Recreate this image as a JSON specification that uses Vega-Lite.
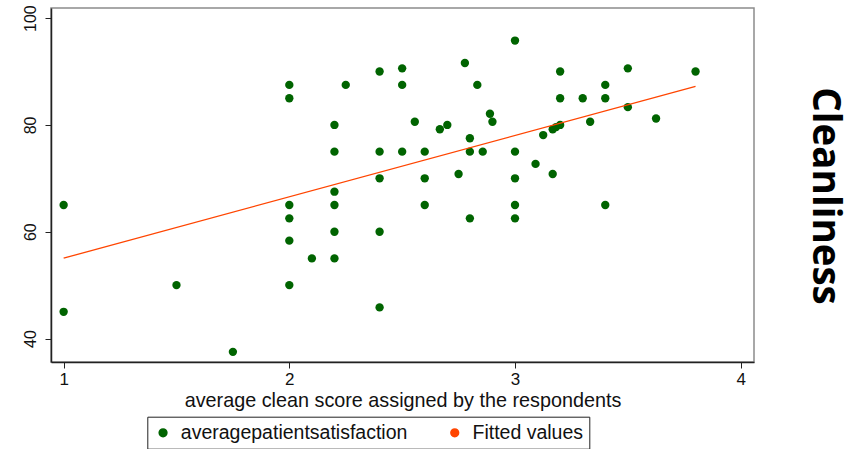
{
  "$schema": "https://vega.github.io/schema/vega-lite/v6.json",
  "width": 703,
  "height": 354,
  "autosize": {"type": "none"},
  "padding": {"left": 51, "top": 8, "right": 98, "bottom": 87},
  "background": "white",
  "config": {
    "view": {"stroke": "#8c8c8c", "strokeWidth": 1.5},
    "font": "Liberation Sans"
  },
  "title": {
    "text": "Cleanliness",
    "orient": "right",
    "anchor": "middle",
    "font": "Open Sans",
    "fontSize": 38.5,
    "fontWeight": "bold",
    "color": "#000000",
    "offset": 50,
    "dx": 11
  },
  "data": {
    "values": [
      {"series": "averagepatientsatisfaction", "x": 1.0, "y": 65},
      {"series": "averagepatientsatisfaction", "x": 1.0, "y": 45},
      {"series": "averagepatientsatisfaction", "x": 1.5, "y": 50},
      {"series": "averagepatientsatisfaction", "x": 1.75, "y": 37.5},
      {"series": "averagepatientsatisfaction", "x": 2.0, "y": 87.5},
      {"series": "averagepatientsatisfaction", "x": 2.0, "y": 85},
      {"series": "averagepatientsatisfaction", "x": 2.0, "y": 65},
      {"series": "averagepatientsatisfaction", "x": 2.0, "y": 62.5},
      {"series": "averagepatientsatisfaction", "x": 2.0, "y": 58.33},
      {"series": "averagepatientsatisfaction", "x": 2.0, "y": 50},
      {"series": "averagepatientsatisfaction", "x": 2.1, "y": 55},
      {"series": "averagepatientsatisfaction", "x": 2.2, "y": 80},
      {"series": "averagepatientsatisfaction", "x": 2.2, "y": 75},
      {"series": "averagepatientsatisfaction", "x": 2.2, "y": 67.5},
      {"series": "averagepatientsatisfaction", "x": 2.2, "y": 65},
      {"series": "averagepatientsatisfaction", "x": 2.2, "y": 60},
      {"series": "averagepatientsatisfaction", "x": 2.2, "y": 55},
      {"series": "averagepatientsatisfaction", "x": 2.25, "y": 87.5},
      {"series": "averagepatientsatisfaction", "x": 2.4, "y": 90},
      {"series": "averagepatientsatisfaction", "x": 2.4, "y": 75},
      {"series": "averagepatientsatisfaction", "x": 2.4, "y": 70},
      {"series": "averagepatientsatisfaction", "x": 2.4, "y": 60},
      {"series": "averagepatientsatisfaction", "x": 2.4, "y": 45.83},
      {"series": "averagepatientsatisfaction", "x": 2.5, "y": 90.6},
      {"series": "averagepatientsatisfaction", "x": 2.5, "y": 87.5},
      {"series": "averagepatientsatisfaction", "x": 2.5, "y": 75},
      {"series": "averagepatientsatisfaction", "x": 2.556, "y": 80.6},
      {"series": "averagepatientsatisfaction", "x": 2.6, "y": 75},
      {"series": "averagepatientsatisfaction", "x": 2.6, "y": 70},
      {"series": "averagepatientsatisfaction", "x": 2.6, "y": 65},
      {"series": "averagepatientsatisfaction", "x": 2.667, "y": 79.2},
      {"series": "averagepatientsatisfaction", "x": 2.7, "y": 80},
      {"series": "averagepatientsatisfaction", "x": 2.75, "y": 70.8},
      {"series": "averagepatientsatisfaction", "x": 2.778, "y": 91.6},
      {"series": "averagepatientsatisfaction", "x": 2.8, "y": 77.5},
      {"series": "averagepatientsatisfaction", "x": 2.8, "y": 75},
      {"series": "averagepatientsatisfaction", "x": 2.8, "y": 62.5},
      {"series": "averagepatientsatisfaction", "x": 2.833, "y": 87.5},
      {"series": "averagepatientsatisfaction", "x": 2.857, "y": 75},
      {"series": "averagepatientsatisfaction", "x": 2.889, "y": 82.1},
      {"series": "averagepatientsatisfaction", "x": 2.9, "y": 80.6},
      {"series": "averagepatientsatisfaction", "x": 3.0, "y": 95.8},
      {"series": "averagepatientsatisfaction", "x": 3.0, "y": 75},
      {"series": "averagepatientsatisfaction", "x": 3.0, "y": 70},
      {"series": "averagepatientsatisfaction", "x": 3.0, "y": 65},
      {"series": "averagepatientsatisfaction", "x": 3.0, "y": 62.5},
      {"series": "averagepatientsatisfaction", "x": 3.091, "y": 72.7},
      {"series": "averagepatientsatisfaction", "x": 3.125, "y": 78.1},
      {"series": "averagepatientsatisfaction", "x": 3.167, "y": 79.2},
      {"series": "averagepatientsatisfaction", "x": 3.167, "y": 70.8},
      {"series": "averagepatientsatisfaction", "x": 3.182, "y": 79.6},
      {"series": "averagepatientsatisfaction", "x": 3.2, "y": 80},
      {"series": "averagepatientsatisfaction", "x": 3.2, "y": 90},
      {"series": "averagepatientsatisfaction", "x": 3.2, "y": 85},
      {"series": "averagepatientsatisfaction", "x": 3.3, "y": 85},
      {"series": "averagepatientsatisfaction", "x": 3.333, "y": 80.6},
      {"series": "averagepatientsatisfaction", "x": 3.4, "y": 87.5},
      {"series": "averagepatientsatisfaction", "x": 3.4, "y": 85},
      {"series": "averagepatientsatisfaction", "x": 3.4, "y": 65},
      {"series": "averagepatientsatisfaction", "x": 3.5, "y": 90.6},
      {"series": "averagepatientsatisfaction", "x": 3.5, "y": 83.33},
      {"series": "averagepatientsatisfaction", "x": 3.625, "y": 81.2},
      {"series": "averagepatientsatisfaction", "x": 3.8, "y": 90},
      {"series": "Fitted values", "x": 1.0, "y": 55.05},
      {"series": "Fitted values", "x": 3.8, "y": 87.2}
    ]
  },
  "encoding": {
    "x": {
      "field": "x",
      "type": "quantitative",
      "scale": {"domain": [0.944, 4.059], "nice": false, "zero": false},
      "axis": {
        "values": [1, 2, 3, 4],
        "title": "average clean score assigned by the respondents",
        "grid": false,
        "tickSize": 6,
        "tickColor": "#222222",
        "domainColor": "#222222",
        "domainWidth": 1.5,
        "labelFontSize": 17,
        "labelPadding": 3,
        "labelColor": "#111111",
        "labelFlush": false,
        "titleFontSize": 19.8,
        "titleFontWeight": "normal",
        "titleColor": "#111111",
        "titlePadding": 3
      }
    },
    "y": {
      "field": "y",
      "type": "quantitative",
      "scale": {"domain": [35.6, 101.9], "nice": false, "zero": false},
      "axis": {
        "values": [40, 60, 80, 100],
        "title": null,
        "grid": false,
        "tickSize": 6,
        "tickColor": "#222222",
        "domainColor": "#222222",
        "domainWidth": 1.5,
        "labelAngle": -90,
        "labelAlign": "center",
        "labelBaseline": "alphabetic",
        "labelPadding": 10,
        "labelFontSize": 16,
        "labelColor": "#111111",
        "labelFlush": false
      }
    }
  },
  "layer": [
    {
      "transform": [{"filter": "datum.series === 'averagepatientsatisfaction'"}],
      "mark": {"type": "point", "filled": true, "opacity": 1, "size": 70, "shape": "circle"},
      "encoding": {
        "color": {
          "field": "series",
          "type": "nominal",
          "scale": {"domain": ["averagepatientsatisfaction", "Fitted values"], "range": ["#006400", "#ff4500"]},
          "legend": {
            "orient": "none", "legendX": 96.3, "legendY": 408.7, "direction": "horizontal", "columns": 2, "title": null,
            "padding": 6, "strokeColor": "#222222", "labelFontSize": 19.5, "labelOffset": 8, "columnPadding": 36.7,
            "labelLimit": 400, "labelColor": "#111111", "labelFont": "Liberation Sans", "symbolSize": 60,
            "encode": {
              "symbols": {
                "shape": {"value": {"expr": "datum.index === 1 ? 'M-2.26,0H16.85' : 'circle'"}},
                "stroke": {"value": {"expr": "datum.index === 1 ? '#ff4500' : 'transparent'"}},
                "strokeWidth": {"value": 1.5},
                "opacity": {"value": 1}
              },
              "labels": {
                "dx": {"value": {"expr": "datum.index === 1 ? 59.5 : 0"}}
              }
            }
          }
        }
      }
    },
    {
      "transform": [{"filter": "datum.series === 'Fitted values'"}],
      "mark": {"type": "line", "strokeWidth": 1.3},
      "encoding": {
        "color": {
          "field": "series",
          "type": "nominal",
          "scale": {"domain": ["averagepatientsatisfaction", "Fitted values"], "range": ["#006400", "#ff4500"]},
          "legend": null
        }
      }
    }
  ]
}
